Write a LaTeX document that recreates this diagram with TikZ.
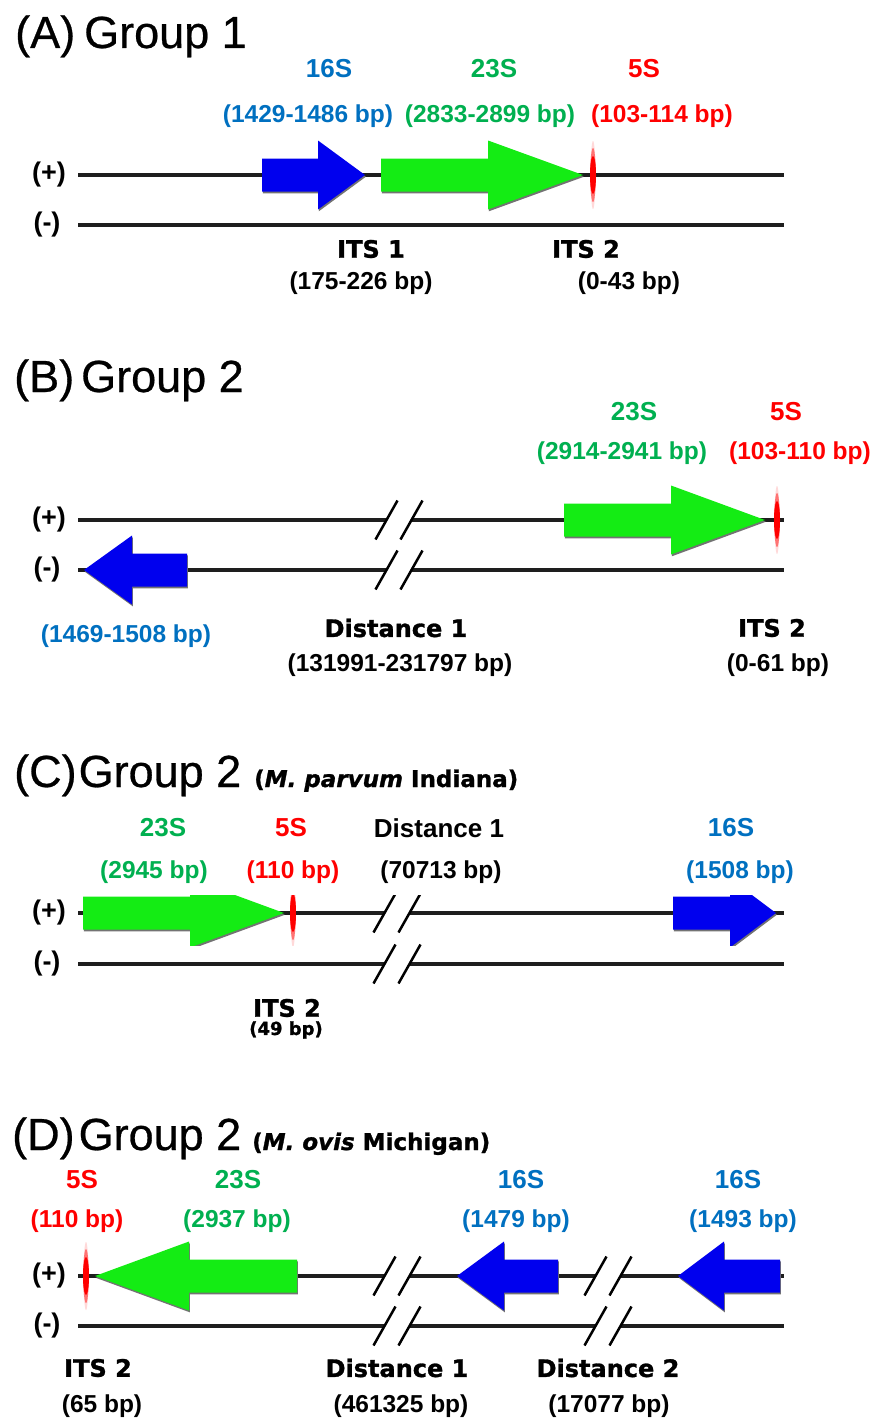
\documentclass[tikz,border=0pt]{standalone}
\usepackage{fontspec}
\setmainfont{Liberation Sans}
\newfontfamily\heavy{DejaVu Sans}[FakeBold=1.2]
\newfontfamily\titlefont{Liberation Sans}[FakeBold=0.6]
\definecolor{lblblue}{RGB}{0,112,192}
\definecolor{lblgreen}{RGB}{0,176,80}
\definecolor{lblred}{RGB}{255,0,0}
\definecolor{geneblue}{RGB}{0,0,238}
\definecolor{genegreen}{RGB}{20,236,20}
\definecolor{strandgray}{RGB}{30,30,30}
\newcommand{\gene}[5]{%
  \fill[black!55,shift={(0.8,1.8)}] (#2,{#5-16.5}) -- (#3,{#5-16.5}) -- (#3,{#5-34.5}) -- (#4,#5)
    -- (#3,{#5+34.5}) -- (#3,{#5+16.5}) -- (#2,{#5+16.5}) -- cycle;
  \fill[#1] (#2,{#5-16.5}) -- (#3,{#5-16.5}) -- (#3,{#5-34.5}) -- (#4,#5)
    -- (#3,{#5+34.5}) -- (#3,{#5+16.5}) -- (#2,{#5+16.5}) -- cycle;}
\newcommand{\fives}[2]{%
  \fill[red!15] (#1,#2) ellipse (2.5 and 34);
  \fill[red!55] (#1,#2) ellipse (2.8 and 27);
  \fill[red] (#1,#2) ellipse (3 and 19);}
\newcommand{\cut}[2]{%
  \fill[white] ({#1-12.5},{#2-2.5}) rectangle ({#1+12.5},{#2+2.5});
  \draw[slash] ({#1-23.5},{#2+19.5}) -- ({#1-1.5},{#2-19.5});
  \draw[slash] ({#1+1.5},{#2+19.5}) -- ({#1+23.5},{#2-19.5});}

\begin{document}
\begin{tikzpicture}[x=1pt,y=-1pt,
    panel/.style={font=\titlefont\fontsize{45}{50}\selectfont,anchor=base west,inner sep=0pt},
    species/.style={font=\heavy\bfseries\fontsize{23}{26}\selectfont,anchor=base west,inner sep=0pt},
    rna/.style={font=\bfseries\fontsize{26}{30}\selectfont,inner sep=0pt},
    bp/.style={font=\bfseries\fontsize{24.5}{28}\selectfont,inner sep=0pt},
    spacer/.style={font=\heavy\bfseries\fontsize{24}{28}\selectfont,inner sep=0pt},
    sense/.style={font=\bfseries\fontsize{27}{30}\selectfont,inner sep=0pt},
    strand/.style={line width=3.5pt,strandgray},
    slash/.style={line width=2.5pt,black}]
    \fill[white] (0,0) rectangle (872,1421);
    \useasboundingbox (0,0) rectangle (872,1421);

    \node[panel] (atitle) at (15,48) {(A)\hspace{9pt}Group 1};
    \node[rna,lblblue] (a16s) at (329,69) {16S};
    \node[bp,lblblue] (a16sbp) at (308,116) {(1429-1486 bp)};
    \node[rna,lblgreen] (a23s) at (494,69) {23S};
    \node[bp,lblgreen] (a23sbp) at (490,116) {(2833-2899 bp)};
    \node[rna,lblred] (a5s) at (644,69) {5S};
    \node[bp,lblred] (a5sbp) at (662,116) {(103-114 bp)};
    \node[sense] (aplus) at (49,175) {(+)};
    \node[sense] (aminus) at (47,225) {(-)};
    \coordinate (aPl) at (78,175);
    \coordinate (aPr) at (784,175);
    \coordinate (aMl) at (78,225);
    \coordinate (aMr) at (784,225);
    \draw[strand] (aPl) -- (aPr);
    \draw[strand] (aMl) -- (aMr);
    \gene{geneblue}{262}{318}{365}{175}
    \gene{genegreen}{381}{488}{583}{175}
    \fives{593}{175}
    \node[spacer] (aits1) at (371,249) {ITS 1};
    \node[bp] (aits1bp) at (361,283) {(175-226 bp)};
    \node[spacer] (aits2) at (586,249) {ITS 2};
    \node[bp] (aits2bp) at (629,283) {(0-43 bp)};

    \node[panel] (btitle) at (14,392) {(B)\hspace{7pt}Group 2};
    \node[rna,lblgreen] (b23s) at (634,412) {23S};
    \node[bp,lblgreen] (b23sbp) at (622,453) {(2914-2941 bp)};
    \node[rna,lblred] (b5s) at (786,412) {5S};
    \node[bp,lblred] (b5sbp) at (800,453) {(103-110 bp)};
    \node[sense] (bplus) at (49,520) {(+)};
    \node[sense] (bminus) at (47,570) {(-)};
    \coordinate (bPl) at (78,520);
    \coordinate (bPr) at (784,520);
    \coordinate (bMl) at (78,570);
    \coordinate (bMr) at (784,570);
    \draw[strand] (bPl) -- (bPr);
    \draw[strand] (bMl) -- (bMr);
    \cut{399}{520}
    \cut{399}{570}
    \gene{genegreen}{564}{671}{765}{520}
    \fives{777}{520}
    \gene{geneblue}{187}{132}{84}{570}
    \node[bp,lblblue] (b16sbp) at (126,636) {(1469-1508 bp)};
    \node[spacer] (bdist) at (396,628) {Distance 1};
    \node[bp] (bdistbp) at (400,665) {(131991-231797 bp)};
    \node[spacer] (bits2) at (772,628) {ITS 2};
    \node[bp] (bits2bp) at (778,665) {(0-61 bp)};

    \node[panel] (ctitle) at (14,787) {(C)\hspace{2pt}Group 2};
    \node[species] (cspecies) at (254,787) {(\itshape M. parvum\/ \upshape Indiana)};
    \node[rna,lblgreen] (c23s) at (163,828) {23S};
    \node[bp,lblgreen] (c23sbp) at (154,872) {(2945 bp)};
    \node[rna,lblred] (c5s) at (291,828) {5S};
    \node[bp,lblred] (c5sbp) at (293,872) {(110 bp)};
    \node[rna] (cdist) at (439,828) {Distance 1};
    \node[bp] (cdistbp) at (441,872) {(70713 bp)};
    \node[rna,lblblue] (c16s) at (731,828) {16S};
    \node[bp,lblblue] (c16sbp) at (740,872) {(1508 bp)};
    \node[sense] (cplus) at (49,913) {(+)};
    \node[sense] (cminus) at (47,964) {(-)};
    \coordinate (cPl) at (78,913);
    \coordinate (cPr) at (784,913);
    \coordinate (cMl) at (78,964);
    \coordinate (cMr) at (784,964);
    \draw[strand] (cPl) -- (cPr);
    \draw[strand] (cMl) -- (cMr);
    \begin{scope}
      \clip (0,895) rectangle (872,945);
      \cut{397}{913}
      \gene{genegreen}{83}{190}{284}{913}
      \fives{293}{913}
      \gene{geneblue}{673}{730}{776}{913}
    \end{scope}
    \cut{397}{964}
    \node[spacer] (cits2) at (287,1008) {ITS 2};
    \node[spacer,font=\heavy\bfseries\fontsize{18}{20}\selectfont] (cits2bp) at (286,1030) {(49 bp)};

    \node[panel] (dtitle) at (12,1150) {(D)\hspace{4pt}Group 2};
    \node[species] (dspecies) at (252,1150) {(\itshape M. ovis\/ \upshape Michigan)};
    \node[rna,lblred] (d5s) at (82,1180) {5S};
    \node[bp,lblred] (d5sbp) at (77,1221) {(110 bp)};
    \node[rna,lblgreen] (d23s) at (238,1180) {23S};
    \node[bp,lblgreen] (d23sbp) at (237,1221) {(2937 bp)};
    \node[rna,lblblue] (d16sa) at (521,1180) {16S};
    \node[bp,lblblue] (d16sabp) at (516,1221) {(1479 bp)};
    \node[rna,lblblue] (d16sb) at (738,1180) {16S};
    \node[bp,lblblue] (d16sbbp) at (743,1221) {(1493 bp)};
    \node[sense] (dplus) at (49,1276) {(+)};
    \node[sense] (dminus) at (47,1326) {(-)};
    \coordinate (dPl) at (78,1276);
    \coordinate (dPr) at (784,1276);
    \coordinate (dMl) at (78,1326);
    \coordinate (dMr) at (784,1326);
    \draw[strand] (dPl) -- (dPr);
    \draw[strand] (dMl) -- (dMr);
    \cut{397}{1276}
    \cut{397}{1326}
    \cut{608}{1276}
    \cut{608}{1326}
    \fives{86}{1276}
    \gene{genegreen}{297}{189}{95}{1276}
    \gene{geneblue}{558}{504}{457}{1276}
    \gene{geneblue}{780}{724}{678}{1276}
    \node[spacer] (dits2) at (98,1368) {ITS 2};
    \node[bp] (dits2bp) at (102,1406) {(65 bp)};
    \node[spacer] (ddist1) at (397,1368) {Distance 1};
    \node[bp] (ddist1bp) at (401,1406) {(461325 bp)};
    \node[spacer] (ddist2) at (608,1368) {Distance 2};
    \node[bp] (ddist2bp) at (609,1406) {(17077 bp)};
\end{tikzpicture}
\end{document}
